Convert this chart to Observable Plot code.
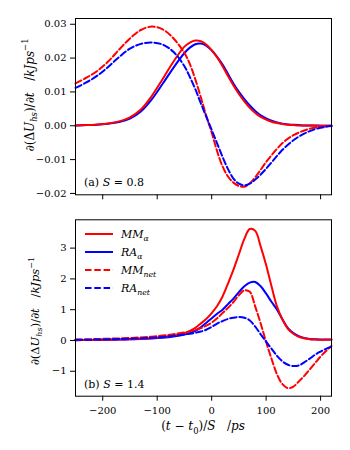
<!DOCTYPE html>
<html><head><meta charset="utf-8">
<script src="https://cdn.jsdelivr.net/npm/d3@7"></script>
<script src="https://cdn.jsdelivr.net/npm/@observablehq/plot@0.6"></script>
<style>
body{margin:0;background:#fff;}
#chart{position:relative;width:350px;height:450px;background:#fff;}
#chart svg{position:absolute;left:0;overflow:visible;}
</style></head><body><div id="chart"></div>
<script>
// time grid (t - t0)/S in ps
const T = [-250,-230,-210,-190,-170,-150,-130,-110,-90,-70,-50,-40,-30,-20,-10,0,10,20,30,40,50,60,70,80,90,100,110,120,130,140,150,160,170,180,190,200,210,220];
// (a) S = 0.8
const MMa1 = [0.0001,0.0002,0.0004,0.0007,0.0013,0.0025,0.0048,0.0088,0.0138,0.0190,0.0234,0.0246,0.0252,0.0250,0.0240,0.0223,0.0202,0.0176,0.0147,0.0119,0.0094,0.0072,0.0053,0.0038,0.0026,0.0018,0.0012,0.0008,0.0005,0.0003,0.0002,0.0001,0.0001,0.0001,0,0,0,0];
const RAa1 = [0.0001,0.0002,0.0003,0.0006,0.0011,0.0021,0.0042,0.0078,0.0124,0.0172,0.0215,0.0231,0.0241,0.0243,0.0237,0.0223,0.0204,0.0181,0.0153,0.0125,0.0100,0.0079,0.0060,0.0044,0.0031,0.0022,0.0015,0.0010,0.0006,0.0004,0.0003,0.0002,0.0001,0.0001,0.0001,0,0,0];
const MMn1 = [0.0125,0.0142,0.0162,0.0190,0.0225,0.0258,0.0283,0.0293,0.0285,0.0258,0.0215,0.0182,0.0137,0.0085,0.0030,-0.0020,-0.0075,-0.0120,-0.0150,-0.0168,-0.0178,-0.0180,-0.0170,-0.0152,-0.0130,-0.0107,-0.0087,-0.0068,-0.0051,-0.0038,-0.0028,-0.0020,-0.0014,-0.0009,-0.0005,-0.0003,-0.0001,0];
const RAn1 = [0.0112,0.0128,0.0148,0.0174,0.0203,0.0228,0.0242,0.0246,0.0240,0.0218,0.0176,0.0144,0.0108,0.0067,0.0027,-0.0012,-0.0052,-0.0092,-0.0128,-0.0156,-0.0171,-0.0176,-0.0171,-0.0159,-0.0144,-0.0127,-0.0108,-0.0089,-0.0071,-0.0056,-0.0043,-0.0032,-0.0023,-0.0016,-0.0010,-0.0006,-0.0003,-0.0001];
// (b) S = 1.4
const MMa2 = [0.01,0.013,0.017,0.022,0.03,0.04,0.055,0.078,0.11,0.16,0.24,0.31,0.41,0.55,0.70,0.89,1.12,1.43,1.85,2.30,2.80,3.30,3.62,3.56,3.05,2.45,1.75,1.10,0.68,0.38,0.22,0.12,0.07,0.04,0.03,0.02,0.02,0.02];
const RAa2 = [0.01,0.013,0.017,0.022,0.03,0.038,0.05,0.066,0.09,0.13,0.19,0.24,0.31,0.43,0.57,0.72,0.87,1.00,1.18,1.36,1.57,1.76,1.88,1.90,1.76,1.52,1.25,1.00,0.68,0.40,0.24,0.14,0.08,0.05,0.04,0.03,0.03,0.03];
const MMn2 = [0.03,0.038,0.047,0.057,0.068,0.082,0.10,0.125,0.16,0.205,0.26,0.295,0.34,0.40,0.48,0.58,0.72,0.89,1.06,1.25,1.47,1.63,1.58,1.10,0.55,-0.05,-0.60,-1.10,-1.42,-1.55,-1.50,-1.33,-1.15,-0.94,-0.73,-0.52,-0.34,-0.18];
const RAn2 = [0.02,0.025,0.031,0.039,0.048,0.058,0.071,0.088,0.115,0.15,0.195,0.22,0.25,0.29,0.35,0.44,0.55,0.63,0.70,0.74,0.76,0.74,0.65,0.45,0.20,-0.04,-0.27,-0.50,-0.68,-0.79,-0.83,-0.81,-0.71,-0.59,-0.46,-0.36,-0.27,-0.20];

const xTicks = [-200,-100,0,100,200];
const yTicks1 = [-0.02,-0.01,0,0.01,0.02,0.03];
const yTicks2 = [-1,0,1,2,3];

const FONT = "DejaVu Serif";
const RED = "#ff0000", BLUE = "#0000ff";
const DASH = "6.5,2.8";

function toRows(arr){ return T.map((t,i)=>({t, v: arr[i]})); }

function panel(opts){
  const {sets, yDomain, yTicks, yFormat, height, mt, mb, showX} = opts;
  return Plot.plot({
    width: 350, height,
    marginLeft: 75, marginRight: 19, marginTop: mt, marginBottom: mb,
    style: {fontFamily: FONT, fontSize: "10px", background: "transparent", color: "#000"},
    x: {domain: [-250, 220]},
    y: {domain: yDomain},
    marks: [
      ...sets.map(s => Plot.line(toRows(s.values), {
        x: "t", y: "v", stroke: s.color, strokeWidth: 2,
        strokeDasharray: s.dash ? DASH : undefined, curve: "catmull-rom"
      })),
      Plot.frame({stroke: "#000", strokeWidth: 1}),
      Plot.axisX({ticks: xTicks, tickSize: 5, tickPadding: 6,
        tickFormat: showX ? d3.format("d") : () => "", label: null}),
      Plot.axisY({ticks: yTicks, tickSize: 5, tickPadding: 4,
        tickFormat: yFormat, label: null})
    ]
  });
}

function mathText(sel, parts, size){
  let shift = 0;
  parts.forEach(([s, o]) => {
    o = o || {};
    const tsp = sel.append("tspan").text(s);
    if (o.i) tsp.attr("font-style", "italic");
    const target = o.sub ? size*0.3 : o.sup ? -size*0.42 : 0;
    if (target !== shift) { tsp.attr("dy", target - shift); shift = target; }
    if (o.sub || o.sup) tsp.attr("font-size", size*0.7);
  });
  return sel;
}
function addText(sel, attrs, parts, size, anchor){
  const t = sel.append("text").attr("font-family", FONT).attr("font-size", size)
    .attr("fill", "#000").attr("text-anchor", anchor || "start");
  Object.entries(attrs).forEach(([k, v]) => t.attr(k, v));
  return mathText(t, parts, size);
}

const yLabelParts = [["∂(Δ"],["U",{i:1}],["hs",{i:1,sub:1}],[")/∂"],["t",{i:1}],["\u00a0\u00a0\u00a0/"],["kJps",{i:1}],["−1",{sup:1}]];

const chart = d3.select("#chart");

// top panel
const topSvg = panel({
  sets: [
    {values: RAa1, color: BLUE}, {values: MMa1, color: RED},
    {values: MMn1, color: RED, dash: 1}, {values: RAn1, color: BLUE, dash: 1}
  ],
  yDomain: [-0.0204, 0.0317], yTicks: yTicks1, yFormat: d3.format(".2f"),
  height: 210, mt: 18, mb: 15.7, showX: false
});
chart.node().appendChild(topSvg);
d3.select(topSvg).style("top", "0px");
const tsel = d3.select(topSvg);
addText(tsel, {transform: "translate(33.5,95) rotate(-90)"}, yLabelParts, 12, "middle");
addText(tsel, {x: 84, y: 186}, [["(a) "],["S",{i:1}],[" = 0.8"]], 11);

// bottom panel
const botSvg = panel({
  sets: [
    {values: RAa2, color: BLUE}, {values: MMa2, color: RED},
    {values: MMn2, color: RED, dash: 1}, {values: RAn2, color: BLUE, dash: 1}
  ],
  yDomain: [-1.81, 3.92], yTicks: yTicks2, yFormat: d3.format("d"),
  height: 240, mt: 9.3, mb: 54.3, showX: true
});
chart.node().appendChild(botSvg);
d3.select(botSvg).style("top", "210px");
const bsel = d3.select(botSvg);
addText(bsel, {transform: "translate(39,101) rotate(-90)"}, yLabelParts, 11.5, "middle");
addText(bsel, {x: 84, y: 178}, [["(b) "],["S",{i:1}],[" = 1.4"]], 11);
addText(bsel, {x: 203, y: 220},
  [["("],["t",{i:1}],[" − "],["t",{i:1}],["0",{sub:1}],[")/"],["S",{i:1}],["\u00a0\u00a0\u00a0/"],["ps",{i:1}]], 12, "middle");

// legend
const legendItems = [
  {parts: [["MM",{i:1}],["α",{i:1,sub:1}]], color: RED, dash: false},
  {parts: [["RA",{i:1}],["α",{i:1,sub:1}]], color: BLUE, dash: false},
  {parts: [["MM",{i:1}],["net",{i:1,sub:1}]], color: RED, dash: true},
  {parts: [["RA",{i:1}],["net",{i:1,sub:1}]], color: BLUE, dash: true}
];
const lg = bsel.append("g");
legendItems.forEach((it, k) => {
  const y = 24 + k*18;
  lg.append("line").attr("x1",85).attr("x2",113).attr("y1",y).attr("y2",y)
    .attr("stroke",it.color).attr("stroke-width",2).attr("stroke-dasharray", it.dash ? DASH : null);
  addText(lg, {x: 121, y: y + 4}, it.parts, 11);
});
</script></body></html>
